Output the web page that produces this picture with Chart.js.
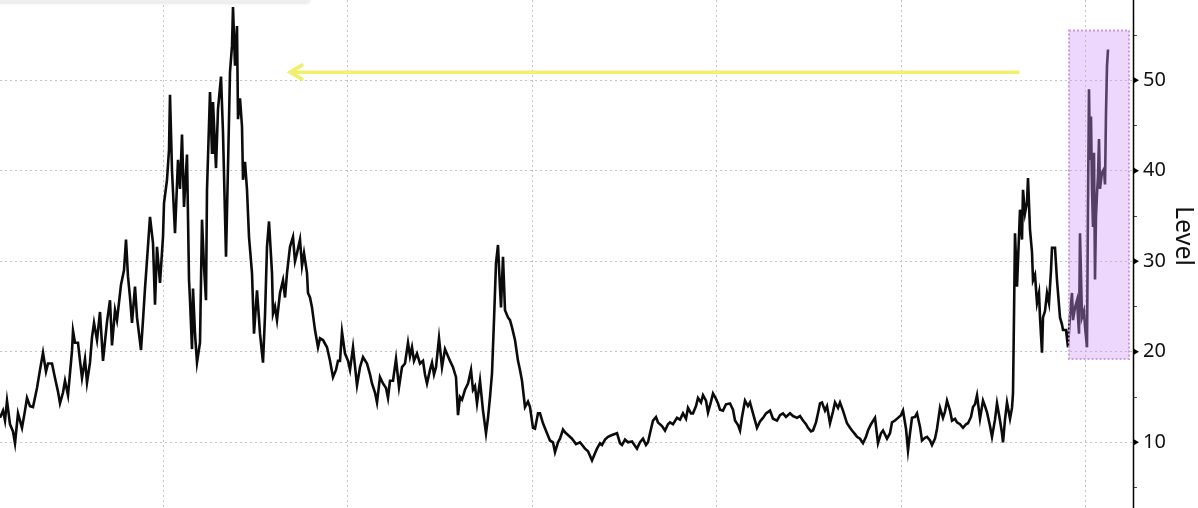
<!DOCTYPE html>
<html>
<head>
<meta charset="utf-8">
<script src="https://cdn.jsdelivr.net/npm/chart.js@4.4.0/dist/chart.umd.min.js"></script>
<style>
  html, body { margin: 0; padding: 0; background: #fff; }
  #wrap { width: 1198px; height: 508px; }
</style>
</head>
<body>
<div id="wrap"><canvas id="chart" width="1198" height="508"></canvas></div>
<script>
// time index (weeks) and level
const weeks = [
  0,3,5,7,10,13,15,18,22,25,27,30,33,37,40,43,46,48,52,55,58,60,63,65,68,72,73,75,78,80,
  82,85,87,90,92,94,97,100,103,107,110,112,115,117,121,124,126,128,130,132,135,137,139,141,143,145,147,150,153,155,
  157,160,163,164,167,169,170,172,175,178,180,182,184,187,188,189,190,192,193,195,197,200,202,204,206,207,210,212,213,216,
  218,221,223,226,228,230,232,233,235,237,238,240,242,243,245,247,249,252,254,257,260,263,265,267,269,272,273,275,277,280,
  283,285,287,290,293,295,297,300,302,304,307,308,310,312,315,318,320,323,327,330,333,336,338,340,342,345,348,350,353,357,
  360,363,367,370,372,375,377,380,383,386,388,390,393,396,399,402,405,408,410,412,414,417,420,423,425,427,430,432,434,436,
  439,442,445,448,450,453,456,458,460,462,465,468,471,473,475,477,480,483,486,488,490,492,494,496,498,500,501,503,505,508,
  510,512,515,518,520,522,525,528,530,533,535,538,540,543,547,550,553,555,558,560,563,565,568,572,576,580,585,588,592,595,
  597,600,602,605,608,612,617,620,622,625,628,632,637,640,643,646,648,650,653,656,658,662,665,668,670,673,677,680,683,686,
  688,691,693,696,698,701,703,706,708,711,713,716,718,720,723,726,730,733,735,738,740,742,745,748,750,753,757,760,763,766,
  770,773,777,780,783,786,790,793,797,800,803,806,808,811,813,816,818,820,822,825,827,830,833,835,838,840,843,847,850,852,
  855,857,860,863,866,868,871,875,878,881,883,887,890,892,895,898,901,903,906,908,910,912,915,917,920,922,925,927,930,932,
  935,937,940,943,945,947,950,952,955,957,960,963,966,968,971,973,975,977,980,983,985,987,990,992,995,997,1000,1002,1003,1005,
  1007,1010,1012,1013,1014,1015,1017,1018,1020,1022,1023,1025,1027,1028,1030,1032,1033,1035,1037,1039,1040,1042,1043,1045,1047,1049,1051,1052,1055,1057,
  1060,1062,1063,1066,1068,1070,1072,1073,1075,1077,1079,1080,1082,1084,1085,1087,1088,1089,1090,1091,1092,1093,1094,1095,1096,1097,1098,1099,1100,1102,
  1104,1105,1106,1107,1108
];
const levels = [
  12.7,13.5,12.4,14.6,12.0,11.2,9.9,13.2,11.6,13.5,14.9,14.0,13.9,16.0,18.0,19.9,17.8,18.7,18.7,17.1,15.6,14.3,15.5,16.8,15.2,20.1,22.3,21.0,21.0,19.0,
  17.1,19.2,16.6,18.8,21.6,23.2,21.3,24.4,19.0,23.3,25.7,20.7,24.6,23.5,27.4,29.0,32.4,28.3,26.0,23.2,27.2,23.8,22.0,20.2,23.5,27.0,30.1,34.9,32.0,25.2,
  31.6,27.6,32.7,36.4,39.0,42.3,48.4,40.0,33.1,41.2,38.0,44.0,36.0,41.8,34.9,28.0,25.7,20.3,27.0,22.0,18.8,21.0,34.6,29.4,25.7,37.9,48.7,42.0,47.6,40.3,
  46.8,50.4,44.2,30.5,40.5,50.9,53.8,58.1,51.6,56.0,45.7,48.0,44.9,39.0,41.0,37.9,32.7,28.7,22.0,26.8,22.0,18.8,24.0,31.6,34.4,28.7,24.2,25.0,23.5,26.5,
  27.9,26.0,28.7,31.6,32.7,30.0,30.9,32.4,29.5,30.9,28.7,26.5,26.0,24.9,22.4,20.5,21.5,21.3,20.5,19.0,17.2,18.0,19.0,19.0,22.2,19.8,19.0,18.0,20.5,16.3,
  18.3,19.4,18.7,17.5,16.5,15.5,14.4,17.2,16.5,16.0,14.9,16.8,16.8,19.2,16.1,18.3,18.7,21.0,19.5,20.5,19.0,19.8,18.7,19.0,17.5,16.5,18.0,18.8,17.5,18.3,
  21.5,18.3,20.3,19.5,19.0,18.3,17.2,13.0,15.0,14.7,15.8,16.5,18.0,15.8,16.2,14.3,16.8,13.5,11.0,12.7,15.0,17.6,23.5,29.8,31.8,27.0,24.9,30.5,24.6,23.8,
  23.5,22.7,21.3,19.0,18.0,16.8,13.9,14.5,13.9,11.6,11.5,13.2,13.2,12.1,11.0,10.2,10.0,8.9,10.0,10.4,11.4,11.1,10.8,10.4,9.8,10.0,9.3,9.0,8.0,8.8,
  9.3,9.9,9.7,10.3,10.6,10.8,11.0,9.9,9.7,10.3,10.0,10.1,9.3,10.0,10.4,9.7,10.0,11.0,12.4,12.8,12.2,11.8,11.3,12.0,12.2,12.0,12.7,12.5,13.2,12.6,
  13.8,13.2,13.2,14.0,14.9,14.4,15.2,14.6,13.3,14.5,15.4,14.8,14.3,13.6,13.5,14.2,14.3,13.6,12.4,11.9,11.3,12.8,14.6,14.0,14.4,13.2,11.6,12.3,12.7,13.2,
  13.5,12.6,12.4,13.0,13.2,12.8,13.2,12.9,12.7,12.9,12.4,12.0,11.6,11.2,11.3,12.2,13.2,14.3,14.4,13.5,14.0,12.1,13.4,14.4,13.8,14.4,13.5,12.1,11.6,11.3,
  10.9,10.6,10.4,9.9,10.6,11.3,12.0,12.7,9.9,11.0,11.3,10.4,11.0,12.2,12.4,12.7,13.0,13.5,11.5,9.1,11.0,12.7,12.8,13.2,11.7,10.2,10.5,10.6,10.2,9.7,
  10.4,11.5,13.8,12.7,13.4,14.6,13.5,12.4,12.6,12.2,12.0,11.6,12.0,12.1,12.8,13.9,14.2,15.2,12.6,14.6,14.0,13.3,11.8,10.6,12.5,14.3,12.4,11.0,10.0,12.5,
  14.4,12.6,13.8,15.4,24.0,33.1,27.2,30.0,35.7,32.4,37.9,35.3,36.5,39.2,33.5,31.0,27.9,28.5,25.4,26.5,23.8,19.9,23.8,24.5,26.5,25.4,29.0,31.5,31.5,27.9,
  23.8,23.0,22.4,22.4,20.5,24.0,26.5,23.5,24.9,25.7,22.0,33.1,23.8,24.5,22.8,20.5,36.5,49.0,41.2,46.0,38.0,33.8,42.0,28.0,35.0,37.5,39.4,43.5,38.0,39.8,
  40.2,38.5,46.4,51.6,53.4
];

// axis setup
const weekRange = [0, 1133];
const gridWeeks = [163, 347, 532, 716, 901, 1085];
const levelRange = [2.74, 58.87];
const levelTicks = [5, 10, 15, 20, 25, 30, 35, 40, 45, 50, 55];
const axisTitle = "Level";

// highlighted recent window and arrow (data units)
const boxWeeks = [1069, 1129];
const boxLevels = [19.2, 55.5];
const arrowWeeks = [1018, 290];
const arrowLevel = 50.9;

const overlay = {
  id: "overlay",
  afterDatasetsDraw(chart) {
    const { ctx, scales: { x, y } } = chart;
    ctx.save();
    // shaded box
    const bx1 = x.getPixelForValue(boxWeeks[0]);
    const bx2 = x.getPixelForValue(boxWeeks[1]);
    const by1 = y.getPixelForValue(boxLevels[1]);
    const by2 = y.getPixelForValue(boxLevels[0]);
    ctx.fillStyle = "rgba(210,150,250,0.38)";
    ctx.fillRect(bx1, by1, bx2 - bx1, by2 - by1);
    ctx.setLineDash([2, 2]);
    ctx.strokeStyle = "#c89ae8";
    ctx.lineWidth = 2;
    ctx.strokeRect(bx1, by1, bx2 - bx1, by2 - by1);
    ctx.setLineDash([]);
    // arrow
    const ax1 = x.getPixelForValue(arrowWeeks[0]);
    const ax2 = x.getPixelForValue(arrowWeeks[1]);
    const ay = y.getPixelForValue(arrowLevel);
    ctx.strokeStyle = "#f3ee6c";
    ctx.lineWidth = 3.5;
    ctx.lineCap = "round";
    ctx.beginPath();
    ctx.moveTo(ax1, ay);
    ctx.lineTo(ax2, ay);
    ctx.moveTo(ax2 + 12, ay - 7);
    ctx.lineTo(ax2, ay);
    ctx.lineTo(ax2 + 12, ay + 7);
    ctx.stroke();
    ctx.restore();
  },
  afterDraw(chart) {
    const { ctx, chartArea, scales: { y } } = chart;
    ctx.save();
    // axis line
    ctx.strokeStyle = "#000";
    ctx.lineWidth = 1.5;
    ctx.beginPath();
    ctx.moveTo(chartArea.right + 0.5, chartArea.top);
    ctx.lineTo(chartArea.right + 0.5, chartArea.bottom);
    ctx.stroke();
    // triangle markers on major ticks
    ctx.fillStyle = "#000";
    levelTicks.filter(v => v % 10 === 0).forEach(v => {
      const py = y.getPixelForValue(v);
      ctx.beginPath();
      ctx.moveTo(chartArea.right, py - 3.5);
      ctx.lineTo(chartArea.right + 6, py);
      ctx.lineTo(chartArea.right, py + 3.5);
      ctx.closePath();
      ctx.fill();
    });
    // axis title
    ctx.translate(chartArea.right + 50, 236);
    ctx.rotate(Math.PI / 2);
    ctx.font = "25px 'Noto Sans'";
    ctx.fillStyle = "#111";
    ctx.textAlign = "center";
    ctx.textBaseline = "middle";
    ctx.fillText(axisTitle, 0, 0);
    ctx.restore();
    // legend box edge peeking in at the top
    ctx.save();
    ctx.shadowColor = "rgba(0,0,0,0.12)";
    ctx.shadowBlur = 3;
    ctx.shadowOffsetY = 1;
    ctx.fillStyle = "#efefef";
    ctx.beginPath();
    ctx.roundRect(-6, -20, 316, 22.5, 4);
    ctx.fill();
    ctx.restore();
  }
};

new Chart(document.getElementById("chart"), {
  type: "line",
  plugins: [overlay],
  data: {
    datasets: [{
      data: weeks.map((w, i) => ({ x: w, y: levels[i] })),
      borderColor: "#0b0b0b",
      borderWidth: 2.6,
      pointRadius: 0,
      tension: 0,
      fill: false
    }]
  },
  options: {
    responsive: false,
    animation: false,
    devicePixelRatio: 1,
    layout: { padding: 0 },
    plugins: { legend: { display: false }, tooltip: { enabled: false } },
    scales: {
      x: {
        type: "linear",
        min: weekRange[0],
        max: weekRange[1],
        afterBuildTicks: s => { s.ticks = gridWeeks.map(v => ({ value: v })); },
        afterFit: s => { s.height = 0; s.paddingLeft = 0; s.paddingRight = 0; },
        ticks: { display: false },
        grid: { color: "#c4c4c4", drawTicks: false, lineWidth: 1 },
        border: { display: false, dash: [2, 3] }
      },
      y: {
        position: "right",
        min: levelRange[0],
        max: levelRange[1],
        afterBuildTicks: s => { s.ticks = levelTicks.map(v => ({ value: v })); },
        afterFit: s => { s.width = 65; s.paddingTop = 0; s.paddingBottom = 0; },
        ticks: {
          callback: v => (v % 10 === 0 ? v : ""),
          color: "#111",
          font: { family: "'Noto Sans'", size: 20 },
          padding: 6
        },
        grid: {
          color: c => (c.tick && c.tick.value % 10 === 0 ? "#c4c4c4" : "rgba(0,0,0,0)"),
          tickColor: c => (c.tick && c.tick.value % 10 === 0 ? "rgba(0,0,0,0)" : "#444"),
          tickLength: 4,
          lineWidth: 1
        },
        border: { display: false, dash: [2, 3] }
      }
    }
  }
});
</script>
</body>
</html>
